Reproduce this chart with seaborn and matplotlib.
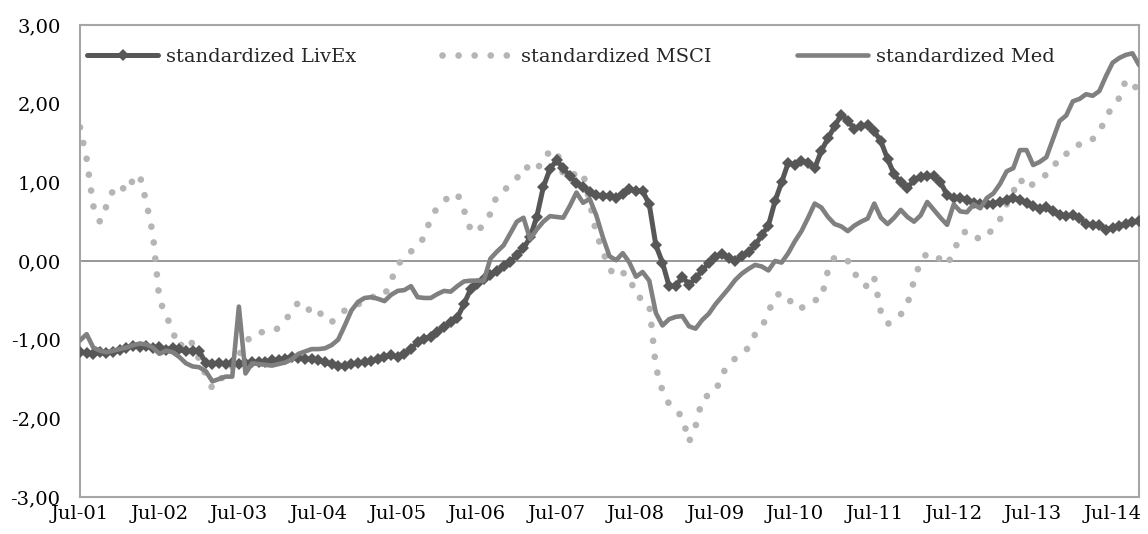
import numpy as np
import pandas as pd
import seaborn as sns
import matplotlib.pyplot as plt
from matplotlib.ticker import FuncFormatter
from matplotlib.lines import Line2D
from matplotlib.legend import Legend

# Monthly series, Jul-2001 .. Nov-2014
livex = [
    -1.16, -1.17, -1.18, -1.16, -1.17, -1.16, -1.13, -1.10, -1.08, -1.09,
    -1.08, -1.11, -1.09, -1.13, -1.10, -1.12, -1.15, -1.14, -1.14, -1.30,
    -1.31, -1.30, -1.31, -1.30, -1.31, -1.30, -1.29, -1.28, -1.28, -1.26,
    -1.26, -1.24, -1.22, -1.23, -1.24, -1.25, -1.26, -1.29, -1.31, -1.33,
    -1.34, -1.31, -1.30, -1.28, -1.27, -1.25, -1.22, -1.20, -1.22, -1.18,
    -1.12, -1.03, -0.99, -0.96, -0.90, -0.84, -0.78, -0.72, -0.55, -0.36,
    -0.29, -0.23, -0.18, -0.13, -0.07, -0.01, 0.08, 0.16, 0.30, 0.56,
    0.94, 1.17, 1.28, 1.18, 1.08, 0.99, 0.94, 0.88, 0.84, 0.82,
    0.83, 0.80, 0.85, 0.91, 0.89, 0.89, 0.72, 0.20, -0.02, -0.32,
    -0.32, -0.20, -0.30, -0.22, -0.12, -0.02, 0.05, 0.09, 0.04, 0.00,
    0.06, 0.11, 0.20, 0.33, 0.45, 0.76, 1.00, 1.25, 1.22, 1.27,
    1.25, 1.18, 1.40, 1.56, 1.71, 1.86, 1.78, 1.68, 1.71, 1.73,
    1.65, 1.52, 1.30, 1.10, 1.00, 0.93, 1.03, 1.07, 1.08, 1.08,
    1.00, 0.84, 0.80, 0.80, 0.78, 0.74, 0.72, 0.72, 0.73, 0.75,
    0.78, 0.80, 0.78, 0.74, 0.70, 0.66, 0.69, 0.63, 0.59, 0.57,
    0.59, 0.55, 0.47, 0.46, 0.46, 0.40, 0.42, 0.44, 0.47, 0.49,
    0.51,
]

msci = [
    1.70, 1.30, 0.70, 0.50, 0.70, 0.90, 0.97, 0.88, 1.03, 1.10,
    0.75, 0.35, -0.50, -0.68, -0.90, -1.10, -0.98, -1.05, -1.25, -1.45,
    -1.62, -1.50, -1.47, -1.35, -1.20, -1.05, -0.93, -0.91, -0.90, -0.90,
    -0.85, -0.75, -0.65, -0.52, -0.55, -0.67, -0.63, -0.75, -0.78, -0.69,
    -0.63, -0.58, -0.55, -0.52, -0.46, -0.45, -0.44, -0.25, -0.05, 0.05,
    0.12, 0.20, 0.30, 0.55, 0.68, 0.77, 0.82, 0.86, 0.65, 0.40,
    0.36, 0.48, 0.60, 0.84, 0.90, 0.96, 1.05, 1.20, 1.18, 1.14,
    1.33, 1.38, 1.41, 1.10, 1.05, 1.13, 1.12, 0.75, 0.35, 0.12,
    -0.10, -0.20, -0.15, -0.19, -0.45, -0.48, -0.55, -1.35, -1.65, -1.82,
    -1.90, -1.98, -2.30, -2.10, -1.76, -1.70, -1.66, -1.45, -1.30, -1.24,
    -1.18, -1.10, -0.93, -0.85, -0.65, -0.45, -0.40, -0.47, -0.60, -0.60,
    -0.52, -0.50, -0.48, -0.12, 0.05, 0.05, 0.00, -0.17, -0.20, -0.35,
    -0.22, -0.65, -0.80, -0.76, -0.68, -0.55, -0.25, 0.00, 0.10, 0.08,
    0.02, -0.05, 0.12, 0.32, 0.39, 0.33, 0.27, 0.32, 0.42, 0.53,
    0.72, 0.88, 1.05, 0.92, 0.98, 1.04, 1.10, 1.17, 1.34, 1.36,
    1.46, 1.48, 1.48, 1.55, 1.64, 1.82, 1.97, 2.07, 2.30, 2.22,
    2.20,
]

med = [
    -1.01, -0.93, -1.10, -1.14, -1.16, -1.14, -1.12, -1.10, -1.07, -1.05,
    -1.06, -1.10, -1.18, -1.14, -1.16, -1.22, -1.30, -1.34, -1.35, -1.40,
    -1.53, -1.50, -1.47, -1.47, -0.58, -1.43, -1.30, -1.31, -1.32, -1.33,
    -1.31, -1.29, -1.25, -1.18, -1.15, -1.12, -1.12, -1.11, -1.07, -1.00,
    -0.82, -0.63, -0.52, -0.47, -0.46, -0.48, -0.51, -0.43, -0.38, -0.37,
    -0.32, -0.46, -0.47, -0.47, -0.42, -0.38, -0.39, -0.32, -0.26, -0.25,
    -0.25, -0.25, 0.03, 0.12, 0.20, 0.35, 0.50, 0.55, 0.28, 0.40,
    0.50, 0.57, 0.56, 0.55, 0.70, 0.87, 0.74, 0.79, 0.58, 0.30,
    0.06, 0.01, 0.10, -0.02, -0.20, -0.14, -0.25, -0.66, -0.82, -0.74,
    -0.71, -0.70, -0.83, -0.86, -0.75, -0.67, -0.55, -0.45, -0.35, -0.24,
    -0.16, -0.10, -0.05, -0.07, -0.12, 0.00, -0.02, 0.10, 0.25, 0.38,
    0.55, 0.73, 0.68, 0.56, 0.47, 0.44, 0.38, 0.45, 0.50, 0.54,
    0.73, 0.55, 0.47, 0.55, 0.65, 0.56, 0.50, 0.58, 0.75, 0.65,
    0.55, 0.46, 0.72, 0.63, 0.62, 0.72, 0.67, 0.80, 0.86, 0.98,
    1.14, 1.18, 1.41, 1.41, 1.22, 1.26, 1.32, 1.55, 1.78, 1.85,
    2.03, 2.06, 2.12, 2.10, 2.16, 2.35, 2.52, 2.58, 2.62, 2.64,
    2.49,
]

tick_labels = ["Jul-01", "Jul-02", "Jul-03", "Jul-04", "Jul-05", "Jul-06", "Jul-07",
               "Jul-08", "Jul-09", "Jul-10", "Jul-11", "Jul-12", "Jul-13", "Jul-14"]
names = ["standardized LivEx", "standardized MSCI", "standardized Med"]

df = pd.DataFrame({"month": np.arange(len(livex)), "livex": livex, "msci": msci, "med": med})

sns.set_style("white")
plt.rcParams["font.family"] = ["DejaVu Serif"]
plt.rcParams["font.size"] = 14

fig = plt.figure(figsize=(11.48, 5.34), dpi=100)
ax = fig.add_axes([0.0697, 0.0693, 0.9225, 0.8839])

c_livex, c_msci, c_med = "#575757", "#b5b5b5", "#808080"
dots = (0, (0.01, 2.4))

ax.axhline(0, color="#8f8f8f", lw=1.3, zorder=1)

sns.lineplot(data=df, x="month", y="livex", ax=ax, color=c_livex, lw=3.6,
             marker="D", markersize=6.5, markeredgewidth=0, zorder=3)
sns.lineplot(data=df, x="month", y="msci", ax=ax, color=c_msci, lw=4.8,
             linestyle=dots, dash_capstyle="round", zorder=2)
sns.lineplot(data=df, x="month", y="med", ax=ax, color=c_med, lw=3.3,
             solid_joinstyle="round", zorder=4)

ax.set_xlim(0, len(livex) - 1)
ax.set_ylim(-3, 3)
ax.set_yticks(np.arange(-3, 4, 1))
ax.yaxis.set_major_formatter(FuncFormatter(lambda v, p: f"{v:.2f}".replace(".", ",")))
ax.set_xticks(np.arange(0, 12 * len(tick_labels), 12))
ax.set_xticklabels(tick_labels)
ax.set_xlabel("")
ax.set_ylabel("")
ax.tick_params(axis="both", length=0, labelsize=14, colors="black")
ax.tick_params(axis="y", pad=14)
ax.tick_params(axis="x", pad=6)
for s in ax.spines.values():
    s.set_color("#a6a6a6")
    s.set_linewidth(1.5)

# legend: three equally spaced entries along the top
handles = [
    Line2D([], [], color=c_livex, lw=3.6, marker="D", markersize=6.5, markeredgewidth=0,
           solid_capstyle="round"),
    Line2D([], [], color=c_msci, lw=4.8, linestyle=dots, dash_capstyle="round"),
    Line2D([], [], color=c_med, lw=3.3, solid_capstyle="round"),
]
for i, (h, name) in enumerate(zip(handles, names)):
    leg = Legend(ax, [h], [name], loc="center left",
                 bbox_to_anchor=(0.0066 + i * 0.3353, 0.932), frameon=False,
                 handlelength=3.66, handletextpad=0.4, borderpad=0,
                 borderaxespad=0, fontsize=14, numpoints=1)
    ax.add_artist(leg)

fig.savefig("out.png", dpi=100)
